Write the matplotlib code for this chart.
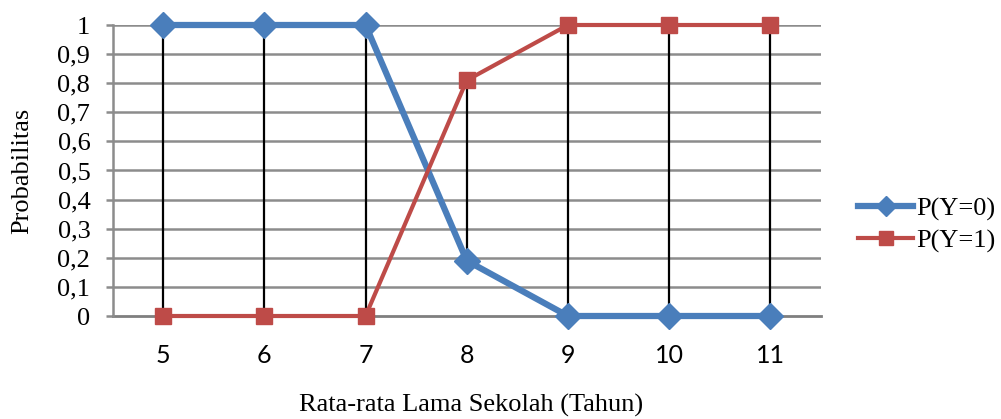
import matplotlib
matplotlib.use("Agg")
import matplotlib.pyplot as plt
import numpy as np

categories = [5, 6, 7, 8, 9, 10, 11]
p_y0 = [1, 1, 1, 0.19, 0, 0, 0]
p_y1 = [0, 0, 0, 0.81, 1, 1, 1]
yticks = [0, 0.1, 0.2, 0.3, 0.4, 0.5, 0.6, 0.7, 0.8, 0.9, 1]
ytick_labels = ["0", "0,1", "0,2", "0,3", "0,4", "0,5", "0,6", "0,7", "0,8", "0,9", "1"]

serif = "Liberation Serif"
plt.rcParams["font.family"] = [serif, "DejaVu Serif"]

W, H = 1001, 419
fig = plt.figure(figsize=(W / 100, H / 100), dpi=100)
ax = fig.add_axes([112.5 / W, 1 - 316 / H, (821 - 112.5) / W, (316 - 25) / H])

x = np.arange(len(categories))
ax.set_xlim(-0.5, len(categories) - 0.5)
ax.set_ylim(0, 1)

grid_color = "#8c8c8c"
for t in yticks[1:]:
    ax.axhline(t, color=grid_color, lw=1.8, zorder=1)

# high-low lines
lo = np.minimum(p_y0, p_y1)
hi = np.maximum(p_y0, p_y1)
ax.vlines(x, lo, hi, color="black", lw=1.6, zorder=3)

blue = "#4a7ebb"
red = "#be4b48"
ax.plot(x, p_y0, color=blue, lw=4.5, marker="D", ms=13, mfc=blue, mec=blue,
        zorder=4, label="P(Y=0)", clip_on=False)
ax.plot(x, p_y1, color=red, lw=3, marker="s", ms=12, mfc=red, mec=red,
        zorder=4, label="P(Y=1)", clip_on=False)

for s in ["top", "right"]:
    ax.spines[s].set_visible(False)
ax.spines["left"].set_color(grid_color)
ax.spines["left"].set_linewidth(1.8)
ax.spines["bottom"].set_color("#7f7f7f")
ax.spines["bottom"].set_linewidth(2)
ax.spines["bottom"].set_zorder(2)

ax.tick_params(axis="y", length=5, width=1.8, color=grid_color, pad=11, labelsize=19)
ax.tick_params(axis="x", length=0, pad=20, labelsize=18)
ax.set_yticks(yticks)
ax.set_yticklabels(ytick_labels, fontfamily=serif, fontsize=19)
ax.set_xticks(x)
ax.set_xticklabels([str(c) for c in categories], fontfamily=["Lato", "DejaVu Sans"], fontsize=18)

fig.text(22 / W, 1 - 171 / H, "Probabilitas", rotation=90, ha="center", va="center",
         fontsize=19)
fig.text(471 / W, 1 - 405 / H, "Rata-rata Lama Sekolah (Tahun)", ha="center", va="center",
         fontsize=19)

leg = fig.legend(loc="center left", bbox_to_anchor=(858 / W, 1 - 225 / H), frameon=False,
                 prop={"size": 19}, handlelength=2.1, borderpad=0,
                 borderaxespad=0, handletextpad=0.1, labelspacing=0.3, markerscale=0.8)

fig.savefig("out.png", dpi=100)
